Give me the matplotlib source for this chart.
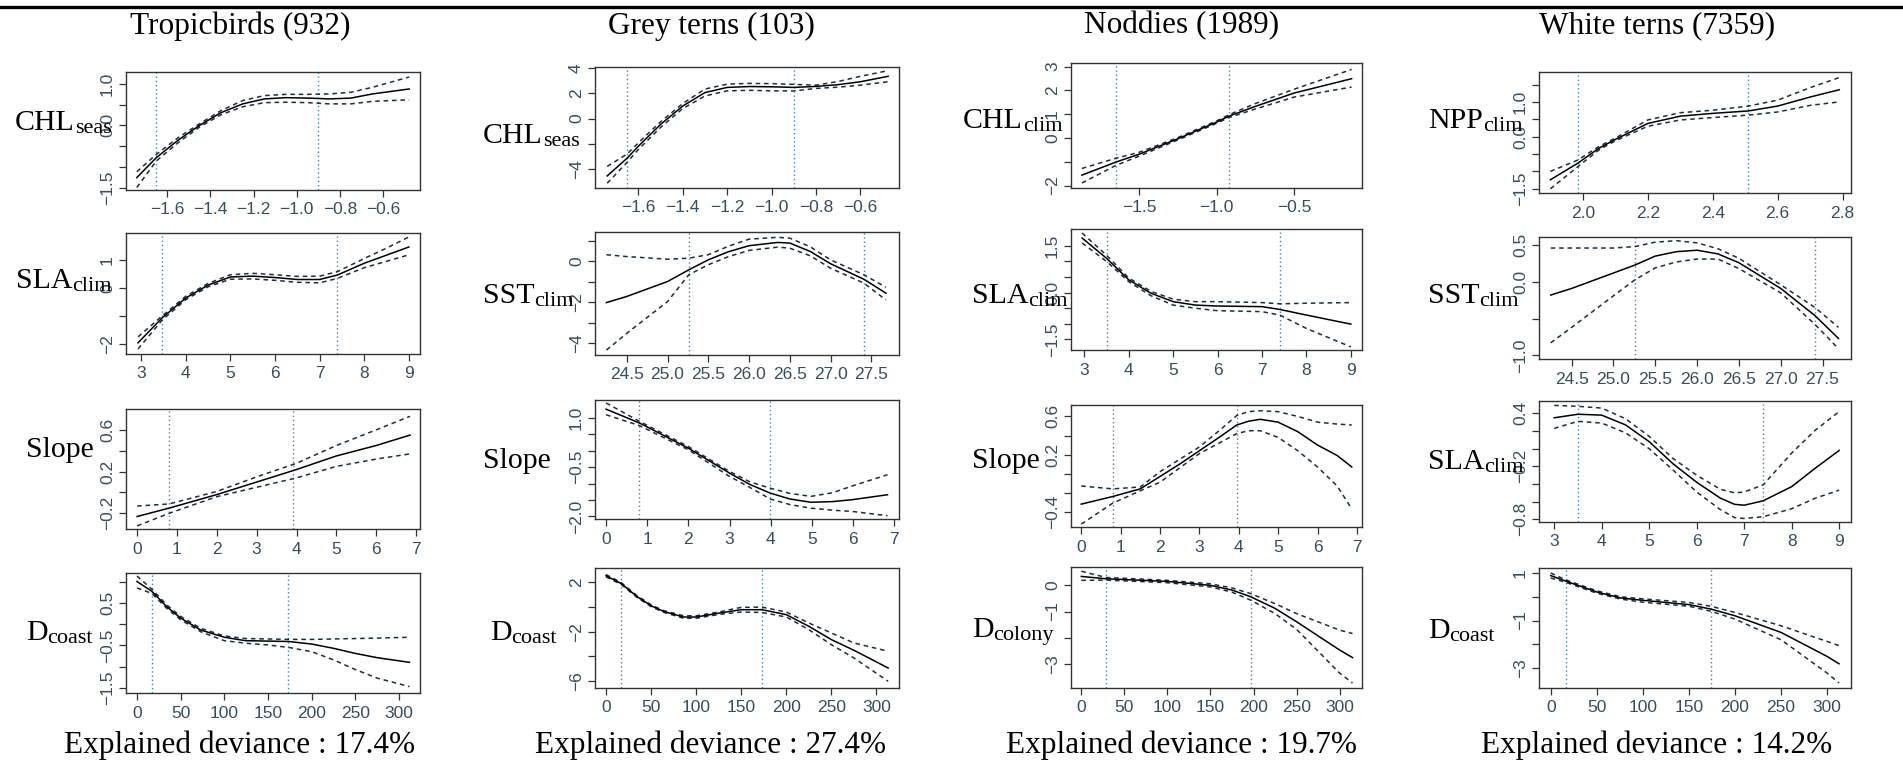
import numpy as np
import matplotlib.pyplot as plt
from matplotlib.lines import Line2D

plt.rcParams['font.family'] = ['Liberation Serif', 'DejaVu Serif']

W, H = 1903, 768

species = ['Tropicbirds (932)', 'Grey terns (103)', 'Noddies (1989)', 'White terns (7359)']
deviance = ['Explained deviance : 17.4%', 'Explained deviance : 27.4%',
            'Explained deviance : 19.7%', 'Explained deviance : 14.2%']

# ---- Tropicbirds ----
tb_chl_x = [-1.74, -1.65, -1.55, -1.45, -1.35, -1.25, -1.15, -1.05, -0.95, -0.85, -0.75, -0.65, -0.48]
tb_chl_fit = [-1.26, -0.78, -0.36, 0.0, 0.31, 0.52, 0.64, 0.67, 0.66, 0.64, 0.66, 0.76, 0.88]
tb_chl_hi = [-1.12, -0.70, -0.30, 0.04, 0.36, 0.60, 0.72, 0.75, 0.75, 0.76, 0.80, 0.92, 1.17]
tb_chl_lo = [-1.50, -0.86, -0.42, -0.04, 0.26, 0.45, 0.55, 0.56, 0.55, 0.52, 0.52, 0.58, 0.62]
tb_chl_q = [-1.65, -0.9]

tb_sla_x = [2.93, 3.47, 4.0, 4.5, 5.0, 5.5, 6.0, 6.5, 7.0, 7.4, 8.0, 8.5, 9.0]
tb_sla_fit = [-1.96, -1.07, -0.36, 0.10, 0.39, 0.42, 0.37, 0.30, 0.30, 0.46, 0.88, 1.17, 1.46]
tb_sla_hi = [-1.75, -1.00, -0.30, 0.16, 0.47, 0.52, 0.47, 0.41, 0.42, 0.58, 1.05, 1.42, 1.82]
tb_sla_lo = [-2.18, -1.15, -0.42, 0.04, 0.31, 0.32, 0.27, 0.20, 0.18, 0.34, 0.72, 0.95, 1.18]
tb_sla_q = [3.47, 7.4]

tb_slope_x = [0, 0.8, 2, 3, 4, 5, 6, 6.85]
tb_slope_fit = [-0.23, -0.15, -0.02, 0.10, 0.22, 0.35, 0.45, 0.55]
tb_slope_hi = [-0.13, -0.11, 0.01, 0.15, 0.28, 0.45, 0.60, 0.73]
tb_slope_lo = [-0.32, -0.20, -0.04, 0.05, 0.14, 0.25, 0.32, 0.37]
tb_slope_q = [0.8, 3.91]

tb_dc_x = [0, 17, 34, 50, 73, 100, 124, 149, 174, 200, 225, 250, 275, 312]
tb_dc_fit = [1.0, 0.77, 0.41, 0.14, -0.14, -0.31, -0.39, -0.40, -0.41, -0.47, -0.57, -0.69, -0.79, -0.90]
tb_dc_hi = [1.13, 0.82, 0.45, 0.18, -0.10, -0.28, -0.34, -0.35, -0.36, -0.36, -0.35, -0.34, -0.33, -0.31]
tb_dc_lo = [0.85, 0.72, 0.37, 0.10, -0.18, -0.39, -0.45, -0.49, -0.55, -0.65, -0.84, -1.07, -1.27, -1.47]
tb_dc_q = [17, 173]

# ---- Grey terns ----
gt_chl_x = [-1.74, -1.65, -1.6, -1.5, -1.4, -1.3, -1.2, -1.1, -1.0, -0.9, -0.8, -0.7, -0.6, -0.475]
gt_chl_fit = [-4.54, -3.13, -2.19, -0.46, 1.0, 2.07, 2.48, 2.55, 2.53, 2.48, 2.56, 2.70, 2.93, 3.36]
gt_chl_hi = [-3.79, -2.80, -1.92, -0.25, 1.20, 2.35, 2.74, 2.80, 2.78, 2.72, 2.66, 2.95, 3.36, 3.81]
gt_chl_lo = [-5.12, -3.45, -2.45, -0.70, 0.80, 1.80, 2.21, 2.25, 2.21, 2.20, 2.40, 2.50, 2.66, 2.93]
gt_chl_q = [-1.65, -0.9]

gt_sst_x = [24.25, 24.5, 25.0, 25.26, 25.5, 25.75, 26.0, 26.35, 26.5, 26.75, 27.0, 27.41, 27.68]
gt_sst_fit = [-2.01, -1.71, -0.98, -0.41, 0.08, 0.48, 0.77, 0.93, 0.90, 0.49, -0.11, -0.87, -1.55]
gt_sst_hi = [0.33, 0.24, 0.11, 0.16, 0.33, 0.75, 1.09, 1.18, 1.14, 0.72, 0.08, -0.65, -1.26]
gt_sst_lo = [-4.33, -3.51, -1.96, -0.65, -0.16, 0.24, 0.54, 0.70, 0.65, 0.28, -0.33, -1.06, -1.88]
gt_sst_q = [25.26, 27.41]

gt_slope_x = [0, 0.81, 2.0, 3.0, 3.5, 3.99, 4.47, 4.98, 5.5, 5.99, 6.84]
gt_slope_fit = [1.27, 0.85, 0.08, -0.68, -1.03, -1.29, -1.47, -1.57, -1.55, -1.49, -1.34]
gt_slope_hi = [1.46, 0.90, 0.13, -0.63, -0.95, -1.14, -1.30, -1.39, -1.28, -1.07, -0.73]
gt_slope_lo = [1.10, 0.77, 0.03, -0.78, -1.12, -1.47, -1.64, -1.75, -1.81, -1.85, -1.98]
gt_slope_q = [0.81, 3.99]

gt_dc_x = [0, 17, 34, 50, 63.5, 86, 100, 126, 150, 173, 200, 225, 250, 275, 313]
gt_dc_fit = [2.51, 1.87, 0.85, 0.09, -0.36, -0.82, -0.82, -0.50, -0.23, -0.23, -0.63, -1.57, -2.64, -3.50, -4.93]
gt_dc_hi = [2.60, 1.95, 0.92, 0.16, -0.29, -0.72, -0.72, -0.40, -0.04, -0.02, -0.42, -1.30, -2.11, -2.91, -3.58]
gt_dc_lo = [2.42, 1.80, 0.78, 0.02, -0.43, -0.92, -0.92, -0.60, -0.42, -0.45, -0.82, -1.84, -3.05, -4.12, -6.00]
gt_dc_q = [17, 173]

# ---- Noddies ----
nd_chl_x = [-1.87, -1.65, -1.5, -1.25, -1.0, -0.92, -0.75, -0.5, -0.13]
nd_chl_fit = [-1.56, -1.01, -0.68, -0.03, 0.67, 0.92, 1.33, 1.89, 2.49]
nd_chl_hi = [-1.28, -0.85, -0.60, 0.02, 0.72, 0.98, 1.45, 2.05, 2.88]
nd_chl_lo = [-1.89, -1.15, -0.76, -0.08, 0.62, 0.86, 1.22, 1.72, 2.14]
nd_chl_q = [-1.65, -0.92]

nd_sla_x = [2.95, 3.5, 4.0, 4.5, 5.0, 5.5, 6.0, 7.0, 7.4, 8.0, 9.0]
nd_sla_fit = [1.75, 1.10, 0.41, -0.02, -0.29, -0.40, -0.43, -0.45, -0.54, -0.72, -1.01]
nd_sla_hi = [1.91, 1.20, 0.47, 0.04, -0.21, -0.29, -0.29, -0.32, -0.36, -0.34, -0.32]
nd_sla_lo = [1.59, 1.00, 0.35, -0.10, -0.40, -0.50, -0.58, -0.61, -0.72, -1.15, -1.74]
nd_sla_q = [3.5, 7.4]

nd_slope_x = [0, 0.8, 1.5, 2.0, 2.5, 3.0, 3.5, 3.95, 4.25, 4.55, 5.0, 5.5, 6.0, 6.5, 6.87]
nd_slope_fit = [-0.32, -0.24, -0.16, -0.03, 0.10, 0.24, 0.38, 0.51, 0.55, 0.57, 0.54, 0.44, 0.30, 0.19, 0.07]
nd_slope_hi = [-0.13, -0.16, -0.14, 0.02, 0.15, 0.28, 0.45, 0.61, 0.65, 0.66, 0.65, 0.60, 0.54, 0.52, 0.51]
nd_slope_lo = [-0.53, -0.31, -0.18, -0.09, 0.06, 0.21, 0.32, 0.42, 0.45, 0.45, 0.38, 0.24, 0.07, -0.13, -0.37]
nd_slope_q = [0.8, 3.95]

nd_dcol_x = [0, 28.7, 50, 100, 150, 175, 197, 225, 250, 300, 315]
nd_dcol_fit = [0.34, 0.25, 0.22, 0.15, 0.0, -0.18, -0.44, -0.88, -1.39, -2.47, -2.76]
nd_dcol_hi = [0.54, 0.30, 0.27, 0.19, 0.06, -0.10, -0.32, -0.70, -1.08, -1.71, -1.84]
nd_dcol_lo = [0.19, 0.20, 0.17, 0.10, -0.06, -0.26, -0.57, -1.08, -1.68, -3.35, -3.73]
nd_dcol_q = [28.7, 197]

# ---- White terns ----
wt_npp_x = [1.9, 1.985, 2.05, 2.1, 2.2, 2.3, 2.4, 2.51, 2.6, 2.7, 2.79]
wt_npp_fit = [-1.24, -0.76, -0.33, -0.08, 0.38, 0.59, 0.67, 0.74, 0.88, 1.14, 1.35]
wt_npp_hi = [-1.00, -0.67, -0.28, -0.04, 0.48, 0.69, 0.76, 0.88, 1.05, 1.41, 1.70]
wt_npp_lo = [-1.50, -0.86, -0.38, -0.12, 0.30, 0.48, 0.55, 0.62, 0.71, 0.90, 1.00]
wt_npp_q = [1.985, 2.51]

wt_sst_x = [24.25, 24.5, 25.0, 25.26, 25.5, 25.75, 26.0, 26.25, 26.5, 27.0, 27.41, 27.69]
wt_sst_fit = [-0.18, -0.09, 0.12, 0.23, 0.35, 0.41, 0.43, 0.38, 0.26, -0.09, -0.46, -0.77]
wt_sst_hi = [0.46, 0.46, 0.46, 0.48, 0.54, 0.56, 0.53, 0.45, 0.32, -0.04, -0.35, -0.62]
wt_sst_lo = [-0.83, -0.62, -0.19, 0.03, 0.19, 0.27, 0.31, 0.31, 0.18, -0.15, -0.58, -0.91]
wt_sst_q = [25.26, 27.41]

wt_sla_x = [3.0, 3.5, 4.0, 4.5, 5.0, 5.5, 6.0, 6.5, 6.8, 7.0, 7.4, 8.0, 8.5, 9.0]
wt_sla_fit = [0.35, 0.39, 0.38, 0.27, 0.08, -0.17, -0.38, -0.56, -0.63, -0.64, -0.59, -0.43, -0.22, -0.02]
wt_sla_hi = [0.49, 0.48, 0.46, 0.34, 0.14, -0.11, -0.30, -0.46, -0.50, -0.49, -0.41, -0.05, 0.21, 0.42]
wt_sla_lo = [0.23, 0.31, 0.29, 0.18, 0.0, -0.24, -0.49, -0.69, -0.78, -0.79, -0.77, -0.68, -0.56, -0.47]
wt_sla_q = [3.5, 7.4]

wt_dc_x = [0, 17, 50, 76, 100, 150, 174, 200, 250, 300, 313]
wt_dc_fit = [0.89, 0.65, 0.20, -0.05, -0.15, -0.33, -0.52, -0.80, -1.50, -2.51, -2.82]
wt_dc_hi = [1.00, 0.70, 0.25, 0.0, -0.09, -0.24, -0.40, -0.66, -1.22, -1.88, -2.06]
wt_dc_lo = [0.79, 0.60, 0.15, -0.10, -0.23, -0.40, -0.61, -0.94, -1.81, -3.21, -3.63]
wt_dc_q = [17, 174]

# x tick positions shared by several panels
chl_xt = [-1.6, -1.4, -1.2, -1.0, -0.8, -0.6]
sla_xt = [3, 4, 5, 6, 7, 8, 9]
slope_xt = [0, 1, 2, 3, 4, 5, 6, 7]
dist_xt = [0, 50, 100, 150, 200, 250, 300]
sst_xt = [24.5, 25.0, 25.5, 26.0, 26.5, 27.0, 27.5]

# (label, subscript, x, fit, upper, lower, quantiles, xlim, xticks, x decimals,
#  ylim, yticks, labelled yticks, y decimals)
panels = [
    [('CHL', 'seas', tb_chl_x, tb_chl_fit, tb_chl_hi, tb_chl_lo, tb_chl_q,
      (-1.79, -0.43), chl_xt, 1, (-1.56, 1.29), [-1.5, -1, -0.5, 0, 0.5, 1.0], [-1.5, 0, 1.0], 1),
     ('SLA', 'clim', tb_sla_x, tb_sla_fit, tb_sla_hi, tb_sla_lo, tb_sla_q,
      (2.66, 9.25), sla_xt, 0, (-2.36, 1.96), [-2, -1, 0, 1], [-2, 0, 1], 0),
     ('Slope', '', tb_slope_x, tb_slope_fit, tb_slope_hi, tb_slope_lo, tb_slope_q,
      (-0.28, 7.1), slope_xt, 0, (-0.35, 0.8), [-0.2, 0, 0.2, 0.4, 0.6], [-0.2, 0.2, 0.6], 1),
     ('D', 'coast', tb_dc_x, tb_dc_fit, tb_dc_hi, tb_dc_lo, tb_dc_q,
      (-12.6, 324), dist_xt, 0, (-1.62, 1.2), [-1.5, -1, -0.5, 0, 0.5, 1.0], [-1.5, -0.5, 0.5], 1)],
    [('CHL', 'seas', gt_chl_x, gt_chl_fit, gt_chl_hi, gt_chl_lo, gt_chl_q,
      (-1.795, -0.426), chl_xt, 1, (-5.5, 4.1), [-4, -2, 0, 2, 4], [-4, 0, 2, 4], 0),
     ('SST', 'clim', gt_sst_x, gt_sst_fit, gt_sst_hi, gt_sst_lo, gt_sst_q,
      (24.11, 27.84), sst_xt, 1, (-4.57, 1.44), [-4, -3, -2, -1, 0, 1], [-4, -2, 0], 0),
     ('Slope', '', gt_slope_x, gt_slope_fit, gt_slope_hi, gt_slope_lo, gt_slope_q,
      (-0.27, 7.12), slope_xt, 0, (-2.08, 1.55), [-2, -1.5, -1, -0.5, 0, 0.5, 1.0], [-2, -0.5, 1.0], 1),
     ('D', 'coast', gt_dc_x, gt_dc_fit, gt_dc_hi, gt_dc_lo, gt_dc_q,
      (-12.2, 325), dist_xt, 0, (-6.54, 3.13), [-6, -4, -2, 0, 2], [-6, -2, 2], 0)],
    [('CHL', 'clim', nd_chl_x, nd_chl_fit, nd_chl_hi, nd_chl_lo, nd_chl_q,
      (-1.94, -0.063), [-1.5, -1.0, -0.5], 1, (-2.1, 3.15), [-2, -1, 0, 1, 2, 3], [-2, 0, 1, 2, 3], 0),
     ('SLA', 'clim', nd_sla_x, nd_sla_fit, nd_sla_hi, nd_sla_lo, nd_sla_q,
      (2.7, 9.25), sla_xt, 0, (-1.84, 2.04), [-1.5, -1, -0.5, 0, 0.5, 1, 1.5], [-1.5, 0, 1.5], 1),
     ('Slope', '', nd_slope_x, nd_slope_fit, nd_slope_hi, nd_slope_lo, nd_slope_q,
      (-0.26, 7.13), slope_xt, 0, (-0.56, 0.72), [-0.4, -0.2, 0, 0.2, 0.4, 0.6], [-0.4, 0.2, 0.6], 1),
     ('D', 'colony', nd_dcol_x, nd_dcol_fit, nd_dcol_hi, nd_dcol_lo, nd_dcol_q,
      (-12, 326), dist_xt, 0, (-3.92, 0.7), [-3, -2, -1, 0], [-3, -1, 0], 0)],
    [('NPP', 'clim', wt_npp_x, wt_npp_fit, wt_npp_hi, wt_npp_lo, wt_npp_q,
      (1.865, 2.826), [2.0, 2.2, 2.4, 2.6, 2.8], 1, (-1.62, 1.86), [-1.5, -1, -0.5, 0, 0.5, 1.0, 1.5], [-1.5, 0, 1.0], 1),
     ('SST', 'clim', wt_sst_x, wt_sst_fit, wt_sst_hi, wt_sst_lo, wt_sst_q,
      (24.11, 27.84), sst_xt, 1, (-1.05, 0.61), [-1.0, -0.5, 0, 0.5], [-1.0, 0, 0.5], 1),
     ('SLA', 'clim', wt_sla_x, wt_sla_fit, wt_sla_hi, wt_sla_lo, wt_sla_q,
      (2.68, 9.25), sla_xt, 0, (-0.83, 0.54), [-0.8, -0.6, -0.4, -0.2, 0, 0.2, 0.4], [-0.8, -0.2, 0.4], 1),
     ('D', 'coast', wt_dc_x, wt_dc_fit, wt_dc_hi, wt_dc_lo, wt_dc_q,
      (-12.7, 326), dist_xt, 0, (-3.84, 1.21), [-3, -2, -1, 0, 1], [-3, -1, 1], 0)],
]

# layout in pixels of the reference
col_lr = [(126, 420), (595, 899), (1071, 1362), (1539, 1851)]
row_tb = [[(72, 190), (233, 354), (409, 529), (573, 693)],
          [(67, 188), (232, 355), (400, 519), (568, 688)],
          [(63, 188), (229, 350), (405, 527), (567, 688)],
          [(72, 193), (237, 359), (401, 522), (568, 688)]]
lab_left = [[15, 16, 26, 26], [483, 483, 483, 490], [963, 972, 972, 972], [1428, 1428, 1428, 1428]]
lab_base = [[130, 288, 457, 640], [143, 303, 468, 640], [128, 303, 468, 637], [128, 303, 469, 638]]
col_center = [240, 711, 1182, 1657]

tick_font = ['Liberation Sans Narrow', 'DejaVu Sans Condensed', 'Liberation Sans', 'DejaVu Sans']


def fmt(v, d):
    if abs(v) < 1e-9:
        v = 0.0
    return f'{v:.{d}f}'.replace('-', '\u2212')


fig = plt.figure(figsize=(W / 100, H / 100), dpi=100)
fig.add_artist(Line2D([0, 1], [1 - 6.5 / H] * 2, lw=2.4, color='black', transform=fig.transFigure))

for c in range(4):
    fig.text(col_center[c] / W, 1 - 26 / H, species[c], fontsize=22.5, ha='center', va='center')
    fig.text(col_center[c] / W, 1 - 745 / H, deviance[c], fontsize=22.5, ha='center', va='center')
    for r in range(4):
        (main, sub, x, fit, hi, lo, q, xlim, xt, xd, ylim, yt, ylab, yd) = panels[c][r]
        l, rr = col_lr[c]
        t, b = row_tb[c][r]
        ax = fig.add_axes([l / W, 1 - b / H, (rr - l) / W, (b - t) / H])
        for v in q:
            ax.axvline(v, color='#3d86b5', lw=1.0, ls=(0, (1, 2)))
        ax.plot(x, hi, color='#1b2f3d', lw=1.1, ls=(0, (3, 2.5)))
        ax.plot(x, lo, color='#1b2f3d', lw=1.1, ls=(0, (3, 2.5)))
        ax.plot(x, fit, color='black', lw=1.1)
        ax.set_xlim(*xlim)
        ax.set_ylim(*ylim)
        ax.set_xticks(xt)
        ax.set_xticklabels([fmt(v, xd) for v in xt], family=tick_font)
        ax.set_yticks(yt)
        ax.set_yticklabels([fmt(v, yd) if v in ylab else '' for v in yt], family=tick_font,
                           rotation=90, va='center')
        ax.tick_params(direction='out', length=5, width=0.9, color='#333333',
                       labelsize=12.5, labelcolor='#3a4d5c')
        ax.tick_params(axis='x', pad=4)
        ax.tick_params(axis='y', pad=3)
        for s in ax.spines.values():
            s.set_color('#333333')
            s.set_linewidth(1.0)

        mt = fig.text(lab_left[c][r] / W, 1 - lab_base[c][r] / H, main, fontsize=21.5,
                      ha='left', va='baseline')
        if sub:
            ax.annotate(sub, xy=(1, 0), xycoords=mt, xytext=(0, 2.4),
                        textcoords='offset points', fontsize=16, ha='left', va='baseline')

fig.savefig('out.png', dpi=100)
